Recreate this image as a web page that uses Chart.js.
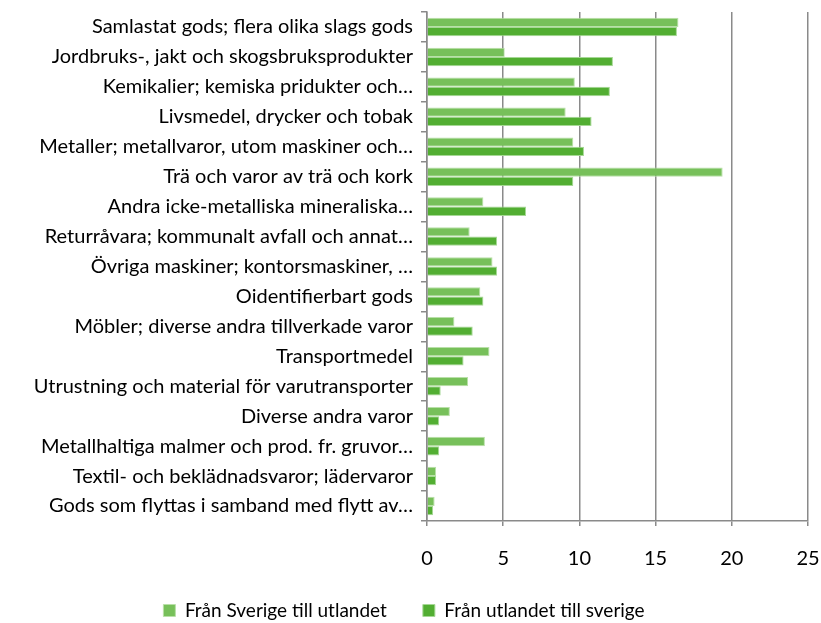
<!DOCTYPE html>
<html>
<head>
<meta charset="utf-8">
<script src="https://cdn.jsdelivr.net/npm/chart.js@4"></script>
<style>
  html, body { margin: 0; padding: 0; background: #fff; }
  #wrap { width: 821px; height: 623px; }
</style>
</head>
<body>
<div id="wrap"><canvas id="chart" width="821" height="623"></canvas></div>
<script>
const categories = [
  'Samlastat gods; flera olika slags gods',
  'Jordbruks-, jakt och skogsbruksprodukter',
  'Kemikalier; kemiska pridukter och…',
  'Livsmedel, drycker och tobak',
  'Metaller; metallvaror, utom maskiner och…',
  'Trä och varor av trä och kork',
  'Andra icke-metalliska mineraliska…',
  'Returråvara; kommunalt avfall och annat…',
  'Övriga maskiner; kontorsmaskiner, …',
  'Oidentifierbart gods',
  'Möbler; diverse andra tillverkade varor',
  'Transportmedel',
  'Utrustning och material för varutransporter',
  'Diverse andra varor',
  'Metallhaltiga malmer och prod. fr. gruvor…',
  'Textil- och beklädnadsvaror; lädervaror',
  'Gods som flyttas i samband med flytt av…',
];
const fromSweden = [16.5, 5.1, 9.7, 9.1, 9.6, 19.4, 3.7, 2.8, 4.3, 3.5, 1.8, 4.1, 2.7, 1.5, 3.8, 0.6, 0.5];
const toSweden = [16.4, 12.2, 12.0, 10.8, 10.3, 9.6, 6.5, 4.6, 4.6, 3.7, 3.0, 2.4, 0.9, 0.8, 0.8, 0.6, 0.4];
const xTicks = [0, 5, 10, 15, 20, 25];

const fam = 'Lato';

new Chart(document.getElementById('chart'), {
  type: 'bar',
  data: {
    labels: categories,
    datasets: [
      {
        label: 'Från Sverige till utlandet',
        data: fromSweden,
        backgroundColor: '#77c05a',
        borderColor: '#b9e0a8',
        borderWidth: 1,
      },
      {
        label: 'Från utlandet till sverige',
        data: toSweden,
        backgroundColor: '#52ae32',
        borderColor: '#a6d895',
        borderWidth: 1,
      },
    ],
  },
  options: {
    indexAxis: 'y',
    responsive: false,
    animation: false,
    datasets: { bar: { categoryPercentage: 0.62, barPercentage: 1 } },
    layout: { padding: { top: 12, right: 13, left: 0, bottom: -7 } },
    plugins: {
      legend: {
        position: 'bottom',
        labels: { font: { family: fam, size: 19 }, color: '#000', boxWidth: 12, boxHeight: 12, padding: 36 },
      },
      tooltip: { enabled: false },
    },
    scales: {
      x: {
        min: 0,
        max: 25,
        afterBuildTicks: (s) => { s.ticks = xTicks.map((v) => ({ value: v })); },
        afterFit: (s) => { s.height = 44; s.paddingLeft = 0; s.paddingRight = 0; },
        grid: { color: '#8a8a8a', lineWidth: 1.5, tickLength: 5 },
        border: { color: '#8a8a8a', width: 1.5 },
        ticks: { color: '#000', font: { family: fam, size: 20 }, padding: 21 },
      },
      y: {
        afterFit: (s) => { s.width = 427; s.paddingTop = 0; s.paddingBottom = 0; },
        grid: { drawOnChartArea: false, color: '#8a8a8a', lineWidth: 1.5, tickLength: 6 },
        border: { color: '#8a8a8a', width: 1.5 },
        ticks: { color: '#000', font: { family: fam, size: 20 }, padding: 8, autoSkip: false },
      },
    },
  },
});
</script>
</body>
</html>
